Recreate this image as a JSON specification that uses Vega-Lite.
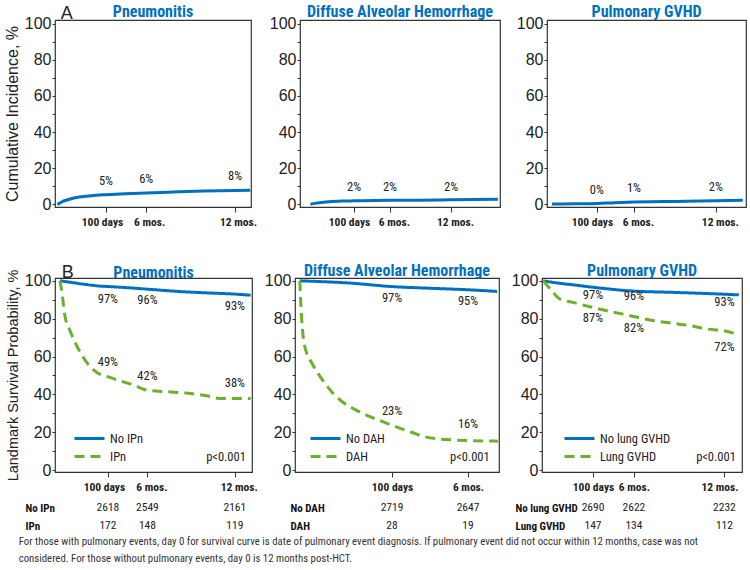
{
"$schema":"https://vega.github.io/schema/vega-lite/v6.json",
"background":"white",
"padding":{"left":3,"top":3,"right":3,"bottom":3},
"datasets":{
"inc":[
{"panel":"A1","day":0,"pct":0},{"panel":"A1","day":5,"pct":0.6},{"panel":"A1","day":10,"pct":1.4},{"panel":"A1","day":20,"pct":2.4},{"panel":"A1","day":30,"pct":3.2},{"panel":"A1","day":45,"pct":4.0},{"panel":"A1","day":60,"pct":4.5},{"panel":"A1","day":80,"pct":5.0},{"panel":"A1","day":100,"pct":5.3},{"panel":"A1","day":140,"pct":5.8},{"panel":"A1","day":182.5,"pct":6.2},{"panel":"A1","day":250,"pct":6.9},{"panel":"A1","day":300,"pct":7.3},{"panel":"A1","day":365,"pct":7.7},{"panel":"A1","day":396,"pct":7.8},
{"panel":"A2","day":0,"pct":0},{"panel":"A2","day":10,"pct":0.5},{"panel":"A2","day":25,"pct":1.0},{"panel":"A2","day":50,"pct":1.5},{"panel":"A2","day":75,"pct":1.8},{"panel":"A2","day":100,"pct":1.9},{"panel":"A2","day":182.5,"pct":2.2},{"panel":"A2","day":250,"pct":2.3},{"panel":"A2","day":322.5,"pct":2.5},{"panel":"A2","day":430,"pct":2.8},
{"panel":"A3","day":0,"pct":0.1},{"panel":"A3","day":50,"pct":0.3},{"panel":"A3","day":100,"pct":0.5},{"panel":"A3","day":140,"pct":0.9},{"panel":"A3","day":182.5,"pct":1.2},{"panel":"A3","day":250,"pct":1.5},{"panel":"A3","day":300,"pct":1.7},{"panel":"A3","day":365,"pct":2.0},{"panel":"A3","day":425,"pct":2.2}
],
"surv":[
{"panel":"B1","group":"No IPn","day":0,"pct":100},{"panel":"B1","group":"No IPn","day":20,"pct":99.3},{"panel":"B1","group":"No IPn","day":50,"pct":98.2},{"panel":"B1","group":"No IPn","day":85,"pct":97.2},{"panel":"B1","group":"No IPn","day":100,"pct":97.0},{"panel":"B1","group":"No IPn","day":140,"pct":96.4},{"panel":"B1","group":"No IPn","day":182.5,"pct":95.6},{"panel":"B1","group":"No IPn","day":260,"pct":94.2},{"panel":"B1","group":"No IPn","day":320,"pct":93.5},{"panel":"B1","group":"No IPn","day":365,"pct":93.0},{"panel":"B1","group":"No IPn","day":398,"pct":92.4},
{"panel":"B1","group":"IPn","day":0,"pct":100},{"panel":"B1","group":"IPn","day":3.5,"pct":95},{"panel":"B1","group":"IPn","day":10,"pct":82},{"panel":"B1","group":"IPn","day":21,"pct":73.6},{"panel":"B1","group":"IPn","day":35,"pct":65.7},{"panel":"B1","group":"IPn","day":56,"pct":56.9},{"panel":"B1","group":"IPn","day":77,"pct":51.6},{"panel":"B1","group":"IPn","day":104,"pct":49},{"panel":"B1","group":"IPn","day":125,"pct":47.2},{"panel":"B1","group":"IPn","day":153,"pct":45},{"panel":"B1","group":"IPn","day":181,"pct":42.3},{"panel":"B1","group":"IPn","day":223,"pct":41.4},{"panel":"B1","group":"IPn","day":264,"pct":40.7},{"panel":"B1","group":"IPn","day":306,"pct":39.3},{"panel":"B1","group":"IPn","day":334,"pct":37.9},{"panel":"B1","group":"IPn","day":398,"pct":37.9},
{"panel":"B2","group":"No DAH","day":0,"pct":100},{"panel":"B2","group":"No DAH","day":55,"pct":98.8},{"panel":"B2","group":"No DAH","day":99,"pct":97},{"panel":"B2","group":"No DAH","day":146,"pct":96},{"panel":"B2","group":"No DAH","day":182,"pct":95.3},{"panel":"B2","group":"No DAH","day":214,"pct":94.4},
{"panel":"B2","group":"DAH","day":0,"pct":100},{"panel":"B2","group":"DAH","day":1,"pct":88},{"panel":"B2","group":"DAH","day":2.5,"pct":76},{"panel":"B2","group":"DAH","day":5,"pct":66},{"panel":"B2","group":"DAH","day":14,"pct":55.7},{"panel":"B2","group":"DAH","day":23,"pct":48.7},{"panel":"B2","group":"DAH","day":34,"pct":41.7},{"panel":"B2","group":"DAH","day":45,"pct":36.5},{"panel":"B2","group":"DAH","day":59,"pct":32.2},{"panel":"B2","group":"DAH","day":74,"pct":28.7},{"panel":"B2","group":"DAH","day":92,"pct":25.2},{"panel":"B2","group":"DAH","day":106,"pct":22.6},{"panel":"B2","group":"DAH","day":121,"pct":20},{"panel":"B2","group":"DAH","day":135,"pct":17.7},{"panel":"B2","group":"DAH","day":164,"pct":16},{"panel":"B2","group":"DAH","day":215,"pct":15.3},
{"panel":"B3","group":"No lung GVHD","day":0,"pct":100},{"panel":"B3","group":"No lung GVHD","day":30,"pct":98.8},{"panel":"B3","group":"No lung GVHD","day":60,"pct":97.9},{"panel":"B3","group":"No lung GVHD","day":94,"pct":96.8},{"panel":"B3","group":"No lung GVHD","day":175,"pct":94.7},{"panel":"B3","group":"No lung GVHD","day":262,"pct":93.9},{"panel":"B3","group":"No lung GVHD","day":329,"pct":93.3},{"panel":"B3","group":"No lung GVHD","day":394,"pct":92.6},
{"panel":"B3","group":"Lung GVHD","day":0,"pct":100},{"panel":"B3","group":"Lung GVHD","day":17,"pct":94.7},{"panel":"B3","group":"Lung GVHD","day":33,"pct":90.4},{"panel":"B3","group":"Lung GVHD","day":60,"pct":88.6},{"panel":"B3","group":"Lung GVHD","day":94,"pct":86.3},{"panel":"B3","group":"Lung GVHD","day":128,"pct":84.2},{"panel":"B3","group":"Lung GVHD","day":175,"pct":81.6},{"panel":"B3","group":"Lung GVHD","day":215,"pct":79.3},{"panel":"B3","group":"Lung GVHD","day":262,"pct":77.5},{"panel":"B3","group":"Lung GVHD","day":296,"pct":76.3},{"panel":"B3","group":"Lung GVHD","day":329,"pct":74.6},{"panel":"B3","group":"Lung GVHD","day":363,"pct":73.7},{"panel":"B3","group":"Lung GVHD","day":394,"pct":71.6}
],
"lab":[
{"panel":"A1","group":"inc","day":100,"pct":5,"text":"5%"},{"panel":"A1","group":"inc","day":182.5,"pct":6,"text":"6%"},{"panel":"A1","group":"inc","day":365,"pct":8,"text":"8%"},
{"panel":"A2","group":"inc","day":100,"pct":2,"text":"2%"},{"panel":"A2","group":"inc","day":182.5,"pct":2,"text":"2%"},{"panel":"A2","group":"inc","day":322.5,"pct":2,"text":"2%"},
{"panel":"A3","group":"inc","day":100,"pct":0,"text":"0%"},{"panel":"A3","group":"inc","day":182.5,"pct":1,"text":"1%"},{"panel":"A3","group":"inc","day":365,"pct":2,"text":"2%"},
{"panel":"B1","group":"No IPn","day":100,"pct":97,"text":"97%"},{"panel":"B1","group":"No IPn","day":182.5,"pct":96,"text":"96%"},{"panel":"B1","group":"No IPn","day":365,"pct":93,"text":"93%"},
{"panel":"B1","group":"IPn","day":100,"pct":49,"text":"49%"},{"panel":"B1","group":"IPn","day":182.5,"pct":42,"text":"42%"},{"panel":"B1","group":"IPn","day":365,"pct":38,"text":"38%"},
{"panel":"B2","group":"No DAH","day":100,"pct":97,"text":"97%"},{"panel":"B2","group":"No DAH","day":182.5,"pct":95,"text":"95%"},
{"panel":"B2","group":"DAH","day":100,"pct":23,"text":"23%"},{"panel":"B2","group":"DAH","day":182.5,"pct":16,"text":"16%"},
{"panel":"B3","group":"No lung GVHD","day":100,"pct":97,"text":"97%"},{"panel":"B3","group":"No lung GVHD","day":182.5,"pct":96,"text":"96%"},{"panel":"B3","group":"No lung GVHD","day":365,"pct":93,"text":"93%"},
{"panel":"B3","group":"Lung GVHD","day":100,"pct":87,"text":"87%"},{"panel":"B3","group":"Lung GVHD","day":182.5,"pct":82,"text":"82%"},{"panel":"B3","group":"Lung GVHD","day":365,"pct":72,"text":"72%"}
],
"risk":[
{"panel":"B1","group":"No IPn","day":100,"n":2618},{"panel":"B1","group":"No IPn","day":182.5,"n":2549},{"panel":"B1","group":"No IPn","day":365,"n":2161},
{"panel":"B1","group":"IPn","day":100,"n":172},{"panel":"B1","group":"IPn","day":182.5,"n":148},{"panel":"B1","group":"IPn","day":365,"n":119},
{"panel":"B2","group":"No DAH","day":100,"n":2719},{"panel":"B2","group":"No DAH","day":182.5,"n":2647},
{"panel":"B2","group":"DAH","day":100,"n":28},{"panel":"B2","group":"DAH","day":182.5,"n":19},
{"panel":"B3","group":"No lung GVHD","day":100,"n":2690},{"panel":"B3","group":"No lung GVHD","day":182.5,"n":2622},{"panel":"B3","group":"No lung GVHD","day":365,"n":2232},
{"panel":"B3","group":"Lung GVHD","day":100,"n":147},{"panel":"B3","group":"Lung GVHD","day":182.5,"n":134},{"panel":"B3","group":"Lung GVHD","day":365,"n":112}
]
},
"title":{"text":["For those with pulmonary events, day 0 for survival curve is date of pulmonary event diagnosis.  If pulmonary event did not occur within 12 months, case was not","considered.  For those without pulmonary events, day 0 is 12 months post-HCT."],"orient":"bottom","anchor":"start","frame":"bounds","dx":15,"offset":1,"font":"Roboto Condensed, Liberation Sans, sans-serif","fontSize":10.8,"fontWeight":"normal","color":"#333","lineHeight":17},
"spacing":33,
"resolve":{"scale":{"x":"independent","y":"independent","color":"independent","strokeDash":"independent"},"legend":{"color":"independent","strokeDash":"independent"}},
"vconcat":[
{"spacing":10,
"title":{"text":"A","anchor":"start","frame":"bounds","orient":"top","offset":-20,"dx":57,"font":"Liberation Sans","fontSize":18,"fontWeight":"normal","color":"#222"},
"resolve":{"scale":{"x":"independent","y":"independent"}},
"hconcat":[
{"width":196,"height":187,
"title":{"text":"Pneumonitis","font":"Roboto Condensed, Liberation Sans, sans-serif","fontSize":16,"fontWeight":"bold","color":"#0070C0","offset":-4,"anchor":"middle"},
"resolve":{"axis":{"y":"independent"}},
"layer":[
{"data":{"name":"inc"},"transform":[{"filter":"datum.panel === 'A1'"}],"mark":{"type":"line","color":"#0070C0","strokeWidth":3,"interpolate":"monotone"},
"encoding":{"x":{"field":"day","type":"quantitative","scale":{"domain":[-4.7,397.7],"nice":false,"zero":false},"axis":{"values":[100,182.5,365],"labelExpr":"datum.value == 100 ? '100 days' : datum.value == 182.5 ? '6 mos.' : '12 mos.'","labelOffset":{"condition":{"test":"datum.value == 100","value":-4},"value":3},"tickSize":5,"labelPadding":4,"labelFont":"Roboto Condensed, Liberation Sans, sans-serif","labelFontWeight":"bold","labelFontSize":11.5,"labelFlush":false,"labelOverlap":false,"title":null}},
"y":{"field":"pct","type":"quantitative","scale":{"domain":[-1.5,102],"nice":false,"zero":false},"axis":{"values":[0,20,40,60,80,100],"labelOverlap":false,"tickSize":3,"labelPadding":1,"labelFont":"Liberation Sans","labelFontSize":16,"title":"Cumulative Incidence, %","titleFont":"Liberation Sans","titleFontSize":16,"titlePadding":4}}}},
{"data":{"name":"lab"},"transform":[{"filter":"datum.panel === 'A1'"}],"mark":{"type":"text","dy":-14,"font":"Roboto Condensed, Liberation Sans, sans-serif","fontSize":12.5,"color":"#222"},
"encoding":{"x":{"field":"day","type":"quantitative"},"y":{"field":"pct","type":"quantitative","axis":{"orient":"left","values":[10,30,50,70,90],"labels":false,"tickSize":3,"title":null,"domain":false}},"text":{"field":"text"}}}
]},
{"width":200,"height":187,
"title":{"text":"Diffuse Alveolar Hemorrhage","font":"Roboto Condensed, Liberation Sans, sans-serif","fontSize":16,"fontWeight":"bold","color":"#0070C0","offset":-4,"anchor":"middle"},
"resolve":{"axis":{"y":"independent"}},
"layer":[
{"data":{"name":"inc"},"transform":[{"filter":"datum.panel === 'A2'"}],"mark":{"type":"line","color":"#0070C0","strokeWidth":3,"interpolate":"monotone"},
"encoding":{"x":{"field":"day","type":"quantitative","scale":{"domain":[-23.9,434.9],"nice":false,"zero":false},"axis":{"values":[100,182.5,322.5],"labelExpr":"datum.value == 100 ? '100 days' : datum.value == 182.5 ? '6 mos.' : '12 mos.'","labelOffset":{"condition":{"test":"datum.value == 100","value":-5},"value":4},"tickSize":5,"labelPadding":4,"labelFont":"Roboto Condensed, Liberation Sans, sans-serif","labelFontWeight":"bold","labelFontSize":11.5,"labelFlush":false,"labelOverlap":false,"title":null}},
"y":{"field":"pct","type":"quantitative","scale":{"domain":[-1.5,102],"nice":false,"zero":false},"axis":{"values":[0,20,40,60,80,100],"labelOverlap":false,"tickSize":3,"labelPadding":1,"labelFont":"Liberation Sans","labelFontSize":16,"title":null}}}},
{"data":{"name":"lab"},"transform":[{"filter":"datum.panel === 'A2'"}],"mark":{"type":"text","dy":-14,"font":"Roboto Condensed, Liberation Sans, sans-serif","fontSize":12.5,"color":"#222"},
"encoding":{"x":{"field":"day","type":"quantitative"},"y":{"field":"pct","type":"quantitative","axis":{"orient":"left","values":[10,30,50,70,90],"labels":false,"tickSize":3,"title":null,"domain":false}},"text":{"field":"text"}}}
]},
{"width":199,"height":187,
"title":{"text":"Pulmonary GVHD","font":"Roboto Condensed, Liberation Sans, sans-serif","fontSize":16,"fontWeight":"bold","color":"#0070C0","offset":-4,"anchor":"middle"},
"resolve":{"axis":{"y":"independent"}},
"layer":[
{"data":{"name":"inc"},"transform":[{"filter":"datum.panel === 'A3'"}],"mark":{"type":"line","color":"#0070C0","strokeWidth":3,"interpolate":"monotone"},
"encoding":{"x":{"field":"day","type":"quantitative","scale":{"domain":[-11.1,432.1],"nice":false,"zero":false},"axis":{"values":[100,182.5,365],"labelExpr":"datum.value == 100 ? '100 days' : datum.value == 182.5 ? '6 mos.' : '12 mos.'","labelOffset":{"condition":{"test":"datum.value == 100","value":-5},"value":4},"tickSize":5,"labelPadding":4,"labelFont":"Roboto Condensed, Liberation Sans, sans-serif","labelFontWeight":"bold","labelFontSize":11.5,"labelFlush":false,"labelOverlap":false,"title":null}},
"y":{"field":"pct","type":"quantitative","scale":{"domain":[-1.5,102],"nice":false,"zero":false},"axis":{"values":[0,20,40,60,80,100],"labelOverlap":false,"tickSize":3,"labelPadding":1,"labelFont":"Liberation Sans","labelFontSize":16,"title":null}}}},
{"data":{"name":"lab"},"transform":[{"filter":"datum.panel === 'A3'"}],"mark":{"type":"text","dy":-14,"font":"Roboto Condensed, Liberation Sans, sans-serif","fontSize":12.5,"color":"#222"},
"encoding":{"x":{"field":"day","type":"quantitative"},"y":{"field":"pct","type":"quantitative","axis":{"orient":"left","values":[10,30,50,70,90],"labels":false,"tickSize":3,"title":null,"domain":false}},"text":{"field":"text"}}}
]}
]},
{"spacing":5,
"title":{"text":"B","anchor":"start","frame":"bounds","orient":"top","offset":-20,"dx":57,"font":"Liberation Sans","fontSize":18,"fontWeight":"normal","color":"#222"},
"resolve":{"scale":{"x":"independent","y":"independent","color":"independent","strokeDash":"independent"},"legend":{"color":"independent","strokeDash":"independent"}},
"hconcat":[
{"spacing":5,
"resolve":{"scale":{"x":"independent","y":"independent","color":"independent","strokeDash":"independent"},"legend":{"color":"independent","strokeDash":"independent"}},
"vconcat":[
{"width":197,"height":194,
"title":{"text":"Pneumonitis","font":"Roboto Condensed, Liberation Sans, sans-serif","fontSize":16,"fontWeight":"bold","color":"#0070C0","offset":-12,"anchor":"middle"},
"resolve":{"axis":{"y":"independent"}},
"layer":[
{"data":{"name":"surv"},"transform":[{"filter":"datum.panel === 'B1'"}],"mark":{"type":"line","strokeWidth":3,"interpolate":"monotone"},
"encoding":{"x":{"field":"day","type":"quantitative","scale":{"domain":[-10.4,400.8],"nice":false,"zero":false},"axis":{"values":[100,182.5,365],"labelExpr":"datum.value == 100 ? '100 days' : datum.value == 182.5 ? '6 mos.' : '12 mos.'","labelOffset":{"condition":{"test":"datum.value == 100","value":-4},"value":4},"tickSize":5,"labelPadding":4,"labelFont":"Roboto Condensed, Liberation Sans, sans-serif","labelFontWeight":"bold","labelFontSize":11.5,"labelFlush":false,"labelOverlap":false,"title":null}},
"y":{"field":"pct","type":"quantitative","scale":{"domain":[-1,101.5],"nice":false,"zero":false},"axis":{"values":[0,20,40,60,80,100],"labelOverlap":false,"tickSize":3,"labelPadding":1,"labelFont":"Liberation Sans","labelFontSize":16,"title":"Landmark Survival Probability, %","titleFont":"Liberation Sans","titleFontSize":14.5,"titlePadding":4}},
"color":{"field":"group","type":"nominal","scale":{"domain":["No IPn","IPn"],"range":["#0070C0","#6DB02A"]},"legend":{"orient":"none","legendX":27,"legendY":153,"title":null,"symbolType":"M-2.5,0H2.5","symbolSize":144,"symbolStrokeWidth":3,"labelOffset":13,"labelFont":"Roboto Condensed, Liberation Sans, sans-serif","labelFontSize":12.5,"labelColor":"#222","rowPadding":4,"padding":0}},
"strokeDash":{"field":"group","type":"nominal","scale":{"domain":["No IPn","IPn"],"range":[[1,0],[10,6]]},"legend":{"orient":"none","legendX":27,"legendY":153,"title":null,"symbolType":"M-2.5,0H2.5","symbolSize":144,"symbolStrokeWidth":3,"labelOffset":13,"labelFont":"Roboto Condensed, Liberation Sans, sans-serif","labelFontSize":12.5,"labelColor":"#222","rowPadding":4,"padding":0}}}},
{"data":{"name":"lab"},"transform":[{"filter":"datum.panel === 'B1' && indexof(datum.group, 'No') === 0"}],"mark":{"type":"text","dy":12,"font":"Roboto Condensed, Liberation Sans, sans-serif","fontSize":12.5,"color":"#222"},
"encoding":{"x":{"field":"day","type":"quantitative"},"y":{"field":"pct","type":"quantitative","axis":{"orient":"left","values":[10,30,50,70,90],"labels":false,"tickSize":3,"title":null,"domain":false}},"text":{"field":"text"}}},
{"data":{"name":"lab"},"transform":[{"filter":"datum.panel === 'B1' && indexof(datum.group, 'No') !== 0"}],"mark":{"type":"text","dy":-15,"font":"Roboto Condensed, Liberation Sans, sans-serif","fontSize":12.5,"color":"#222"},
"encoding":{"x":{"field":"day","type":"quantitative"},"y":{"field":"pct","type":"quantitative","axis":null},"text":{"field":"text"}}},
{"data":{"values":[{}]},"mark":{"type":"text","text":"p<0.001","align":"right","font":"Roboto Condensed, Liberation Sans, sans-serif","fontSize":12.5,"color":"#222"},"encoding":{"x":{"datum":388,"type":"quantitative"},"y":{"datum":6.9,"type":"quantitative","axis":null}}}
]},
{"width":197,"height":36,"view":{"stroke":null},
"data":{"name":"risk"},"transform":[{"filter":"datum.panel === 'B1'"}],
"mark":{"type":"text","font":"Roboto Condensed, Liberation Sans, sans-serif","fontSize":11.5,"color":"#222"},
"encoding":{"x":{"field":"day","type":"quantitative","scale":{"domain":[-10.4,400.8],"nice":false,"zero":false},"axis":null},
"y":{"field":"group","type":"nominal","scale":{"domain":["No IPn","IPn"]},"axis":{"title":null,"domain":false,"ticks":false,"tickSize":0,"labelAlign":"left","labelPadding":30,"labelFont":"Roboto Condensed, Liberation Sans, sans-serif","labelFontWeight":"bold","labelFontSize":11,"labelColor":"#111"}},
"text":{"field":"n","type":"nominal"}}}
]},
{"spacing":5,
"resolve":{"scale":{"x":"independent","y":"independent","color":"independent","strokeDash":"independent"},"legend":{"color":"independent","strokeDash":"independent"}},
"vconcat":[
{"width":204,"height":194,
"title":{"text":"Diffuse Alveolar Hemorrhage","font":"Roboto Condensed, Liberation Sans, sans-serif","fontSize":16,"fontWeight":"bold","color":"#0070C0","offset":-6,"anchor":"middle"},
"resolve":{"axis":{"y":"independent"}},
"layer":[
{"data":{"name":"surv"},"transform":[{"filter":"datum.panel === 'B2'"}],"mark":{"type":"line","strokeWidth":3,"interpolate":"monotone"},
"encoding":{"x":{"field":"day","type":"quantitative","scale":{"domain":[-5.3,216.1],"nice":false,"zero":false},"axis":{"values":[100,182.5],"labelExpr":"datum.value == 100 ? '100 days' : '6 mos.'","tickSize":5,"labelPadding":4,"labelFont":"Roboto Condensed, Liberation Sans, sans-serif","labelFontWeight":"bold","labelFontSize":11.5,"labelFlush":false,"labelOverlap":false,"title":null}},
"y":{"field":"pct","type":"quantitative","scale":{"domain":[-1,101.5],"nice":false,"zero":false},"axis":{"values":[0,20,40,60,80,100],"labelOverlap":false,"tickSize":3,"labelPadding":1,"labelFont":"Liberation Sans","labelFontSize":16,"title":null}},
"color":{"field":"group","type":"nominal","scale":{"domain":["No DAH","DAH"],"range":["#0070C0","#6DB02A"]},"legend":{"orient":"none","legendX":23,"legendY":153,"title":null,"symbolType":"M-2.5,0H2.5","symbolSize":144,"symbolStrokeWidth":3,"labelOffset":13,"labelFont":"Roboto Condensed, Liberation Sans, sans-serif","labelFontSize":12.5,"labelColor":"#222","rowPadding":4,"padding":0}},
"strokeDash":{"field":"group","type":"nominal","scale":{"domain":["No DAH","DAH"],"range":[[1,0],[10,6]]},"legend":{"orient":"none","legendX":23,"legendY":153,"title":null,"symbolType":"M-2.5,0H2.5","symbolSize":144,"symbolStrokeWidth":3,"labelOffset":13,"labelFont":"Roboto Condensed, Liberation Sans, sans-serif","labelFontSize":12.5,"labelColor":"#222","rowPadding":4,"padding":0}}}},
{"data":{"name":"lab"},"transform":[{"filter":"datum.panel === 'B2' && indexof(datum.group, 'No') === 0"}],"mark":{"type":"text","dy":11,"font":"Roboto Condensed, Liberation Sans, sans-serif","fontSize":12.5,"color":"#222"},
"encoding":{"x":{"field":"day","type":"quantitative"},"y":{"field":"pct","type":"quantitative","axis":{"orient":"left","values":[10,30,50,70,90],"labels":false,"tickSize":3,"title":null,"domain":false}},"text":{"field":"text"}}},
{"data":{"name":"lab"},"transform":[{"filter":"datum.panel === 'B2' && indexof(datum.group, 'No') !== 0"}],"mark":{"type":"text","dy":-16,"font":"Roboto Condensed, Liberation Sans, sans-serif","fontSize":12.5,"color":"#222"},
"encoding":{"x":{"field":"day","type":"quantitative"},"y":{"field":"pct","type":"quantitative","axis":null},"text":{"field":"text"}}},
{"data":{"values":[{}]},"mark":{"type":"text","text":"p<0.001","align":"right","font":"Roboto Condensed, Liberation Sans, sans-serif","fontSize":12.5,"color":"#222"},"encoding":{"x":{"datum":206,"type":"quantitative"},"y":{"datum":6.8,"type":"quantitative","axis":null}}}
]},
{"width":204,"height":36,"view":{"stroke":null},
"data":{"name":"risk"},"transform":[{"filter":"datum.panel === 'B2'"}],
"mark":{"type":"text","font":"Roboto Condensed, Liberation Sans, sans-serif","fontSize":11.5,"color":"#222"},
"encoding":{"x":{"field":"day","type":"quantitative","scale":{"domain":[-5.3,216.1],"nice":false,"zero":false},"axis":null},
"y":{"field":"group","type":"nominal","scale":{"domain":["No DAH","DAH"]},"axis":{"title":null,"domain":false,"ticks":false,"tickSize":0,"labelAlign":"left","labelPadding":5,"labelFont":"Roboto Condensed, Liberation Sans, sans-serif","labelFontWeight":"bold","labelFontSize":11,"labelColor":"#111"}},
"text":{"field":"n","type":"nominal"}}}
]},
{"spacing":5,
"resolve":{"scale":{"x":"independent","y":"independent","color":"independent","strokeDash":"independent"},"legend":{"color":"independent","strokeDash":"independent"}},
"vconcat":[
{"width":200,"height":194,
"title":{"text":"Pulmonary GVHD","font":"Roboto Condensed, Liberation Sans, sans-serif","fontSize":16,"fontWeight":"bold","color":"#0070C0","offset":-6,"anchor":"middle"},
"resolve":{"axis":{"y":"independent"}},
"layer":[
{"data":{"name":"surv"},"transform":[{"filter":"datum.panel === 'B3'"}],"mark":{"type":"line","strokeWidth":3,"interpolate":"monotone"},
"encoding":{"x":{"field":"day","type":"quantitative","scale":{"domain":[-2.8,400.4],"nice":false,"zero":false},"axis":{"values":[100,182.5,365],"labelExpr":"datum.value == 100 ? '100 days' : datum.value == 182.5 ? '6 mos.' : '12 mos.'","labelOffset":{"condition":{"test":"datum.value == 365","value":-5},"value":0},"tickSize":5,"labelPadding":4,"labelFont":"Roboto Condensed, Liberation Sans, sans-serif","labelFontWeight":"bold","labelFontSize":11.5,"labelFlush":false,"labelOverlap":false,"title":null}},
"y":{"field":"pct","type":"quantitative","scale":{"domain":[-1,101.5],"nice":false,"zero":false},"axis":{"values":[0,20,40,60,80,100],"labelOverlap":false,"tickSize":3,"labelPadding":1,"labelFont":"Liberation Sans","labelFontSize":16,"title":null}},
"color":{"field":"group","type":"nominal","scale":{"domain":["No lung GVHD","Lung GVHD"],"range":["#0070C0","#6DB02A"]},"legend":{"orient":"none","legendX":30,"legendY":153,"title":null,"symbolType":"M-2.5,0H2.5","symbolSize":144,"symbolStrokeWidth":3,"labelOffset":13,"labelFont":"Roboto Condensed, Liberation Sans, sans-serif","labelFontSize":12.5,"labelColor":"#222","rowPadding":4,"padding":0}},
"strokeDash":{"field":"group","type":"nominal","scale":{"domain":["No lung GVHD","Lung GVHD"],"range":[[1,0],[10,6]]},"legend":{"orient":"none","legendX":30,"legendY":153,"title":null,"symbolType":"M-2.5,0H2.5","symbolSize":144,"symbolStrokeWidth":3,"labelOffset":13,"labelFont":"Roboto Condensed, Liberation Sans, sans-serif","labelFontSize":12.5,"labelColor":"#222","rowPadding":4,"padding":0}}}},
{"data":{"name":"lab"},"transform":[{"filter":"datum.panel === 'B3' && indexof(datum.group, 'No') === 0"}],"mark":{"type":"text","dy":8,"font":"Roboto Condensed, Liberation Sans, sans-serif","fontSize":12.5,"color":"#222"},
"encoding":{"x":{"field":"day","type":"quantitative"},"y":{"field":"pct","type":"quantitative","axis":{"orient":"left","values":[10,30,50,70,90],"labels":false,"tickSize":3,"title":null,"domain":false}},"text":{"field":"text"}}},
{"data":{"name":"lab"},"transform":[{"filter":"datum.panel === 'B3' && indexof(datum.group, 'No') !== 0"}],"mark":{"type":"text","dy":13,"font":"Roboto Condensed, Liberation Sans, sans-serif","fontSize":12.5,"color":"#222"},
"encoding":{"x":{"field":"day","type":"quantitative"},"y":{"field":"pct","type":"quantitative","axis":null},"text":{"field":"text"}}},
{"data":{"values":[{}]},"mark":{"type":"text","text":"p<0.001","align":"right","font":"Roboto Condensed, Liberation Sans, sans-serif","fontSize":12.5,"color":"#222"},"encoding":{"x":{"datum":388,"type":"quantitative"},"y":{"datum":7,"type":"quantitative","axis":null}}}
]},
{"width":200,"height":36,"view":{"stroke":null},
"data":{"name":"risk"},"transform":[{"filter":"datum.panel === 'B3'"}],
"mark":{"type":"text","font":"Roboto Condensed, Liberation Sans, sans-serif","fontSize":11.5,"color":"#222"},
"encoding":{"x":{"field":"day","type":"quantitative","scale":{"domain":[-2.8,400.4],"nice":false,"zero":false},"axis":null},
"y":{"field":"group","type":"nominal","scale":{"domain":["No lung GVHD","Lung GVHD"]},"axis":{"title":null,"domain":false,"ticks":false,"tickSize":0,"labelAlign":"left","labelPadding":27,"labelFont":"Roboto Condensed, Liberation Sans, sans-serif","labelFontWeight":"bold","labelFontSize":11,"labelColor":"#111"}},
"text":{"field":"n","type":"nominal"}}}
]}
]}
],
"config":{
"view":{"stroke":"#333","strokeWidth":1.2},
"axis":{"grid":false,"domain":false,"tickColor":"#333","labelColor":"#222","titleColor":"#222","titleFontWeight":"normal"}
}
}
